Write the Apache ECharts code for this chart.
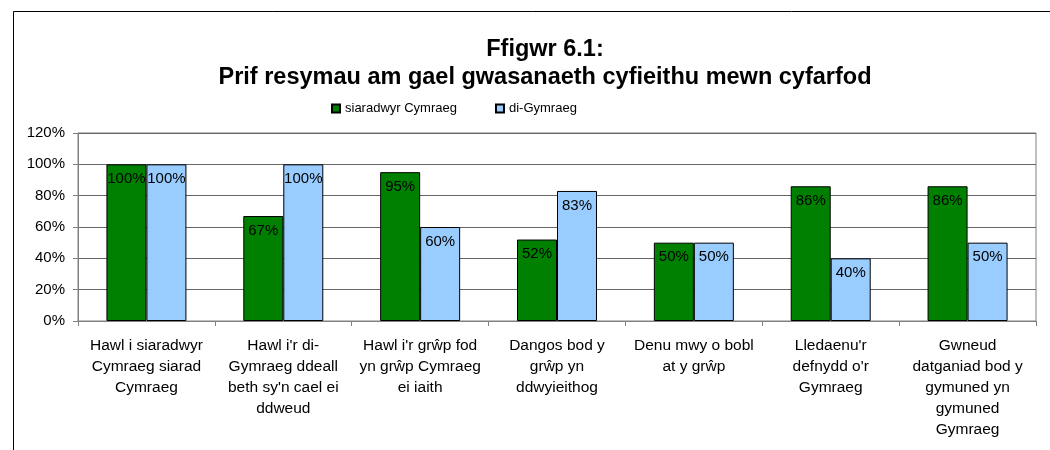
<!DOCTYPE html>
<html>
<head>
<meta charset="utf-8">
<script src="https://cdn.jsdelivr.net/npm/echarts@6/dist/echarts.min.js"></script>
<style>html,body{margin:0;padding:0;background:#fff}#c{width:1050px;height:450px}</style>
</head>
<body>
<div id="c"></div>
<script>
const categories = [
  "Hawl i siaradwyr\nCymraeg siarad\nCymraeg",
  "Hawl i'r di-\nGymraeg ddeall\nbeth sy'n cael ei\nddweud",
  "Hawl i'r grŵp fod\nyn grŵp Cymraeg\nei iaith",
  "Dangos bod y\ngrŵp yn\nddwyieithog",
  "Denu mwy o bobl\nat y grŵp",
  "Lledaenu'r\ndefnydd o'r\nGymraeg",
  "Gwneud\ndatganiad bod y\ngymuned yn\ngymuned\nGymraeg"
];
const seriesNames = ["siaradwyr Cymraeg", "di-Gymraeg"];
const welshSpeakers = [100, 67, 95, 52, 50, 86, 86];
const nonWelsh = [100, 100, 60, 83, 50, 40, 50];
const yTicks = [0, 20, 40, 60, 80, 100, 120];

const FONT = "'Liberation Sans', Arial, sans-serif";
const chart = echarts.init(document.getElementById('c'), null, {renderer: 'canvas'});
const labelCfg = {
  show: true, position: 'insideTop', distance: 7,
  formatter: p => p.value + '%', color: '#000', fontSize: 15, fontFamily: FONT
};
chart.setOption({
  animation: false,
  backgroundColor: '#fff',
  graphic: [{
    type: 'rect', left: 11, top: 9, silent: true,
    shape: {width: 1200, height: 600},
    style: {fill: 'none', stroke: '#000', lineWidth: 1}
  }],
  title: {
    text: 'Ffigwr 6.1:\nPrif resymau am gael gwasanaeth cyfieithu mewn cyfarfod',
    left: 540, textAlign: 'center', top: 31,
    textStyle: {fontFamily: FONT, fontSize: 23.5, fontWeight: 'bold', color: '#000', lineHeight: 28}
  },
  legend: {
    left: 326, top: 97, itemGap: 38, itemWidth: 8, itemHeight: 8, icon: 'rect',
    textStyle: {fontFamily: FONT, fontSize: 13, color: '#000'},
    data: seriesNames
  },
  grid: {
    left: 78, right: 14, top: 133, bottom: 129,
    show: true, borderColor: '#808080', borderWidth: 1
  },
  xAxis: {
    type: 'category', data: categories,
    axisLine: {lineStyle: {color: '#808080', width: 1}},
    axisTick: {show: true, length: 5, alignWithLabel: false, lineStyle: {color: '#808080'}},
    axisLabel: {interval: 0, margin: 14, fontFamily: FONT, fontSize: 15.5, lineHeight: 21, color: '#000', align: 'center'}
  },
  yAxis: {
    type: 'value', min: 0, max: 120, interval: 20,
    axisLine: {show: true, lineStyle: {color: '#808080', width: 1}},
    axisTick: {show: true, length: 5, lineStyle: {color: '#808080'}},
    axisLabel: {formatter: v => yTicks.includes(v) ? v + '%' : '', margin: 13, fontFamily: FONT, fontSize: 15, color: '#000'},
    splitLine: {show: true, lineStyle: {color: '#666', width: 1}}
  },
  series: [
    {
      name: seriesNames[0], type: 'bar', data: welshSpeakers,
      barWidth: 40, barGap: '0%',
      itemStyle: {color: '#008000', borderColor: '#000', borderWidth: 1},
      label: labelCfg
    },
    {
      name: seriesNames[1], type: 'bar', data: nonWelsh,
      barWidth: 40, barGap: '0%',
      itemStyle: {color: '#99CCFF', borderColor: '#000', borderWidth: 1},
      label: labelCfg
    }
  ]
});
</script>
</body>
</html>
